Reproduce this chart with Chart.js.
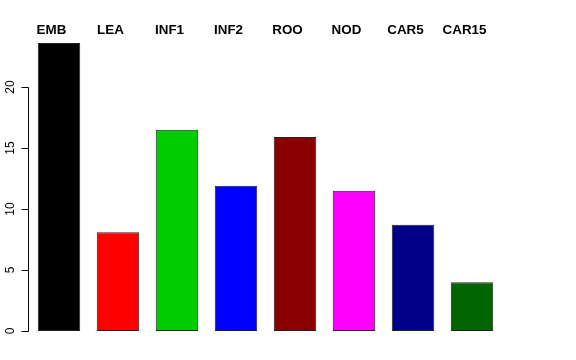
<!DOCTYPE html>
<html>
<head>
<meta charset="utf-8">
<script src="https://cdn.jsdelivr.net/npm/chart.js@4"></script>
<style>
  html, body { margin: 0; padding: 0; background: #fff; }
  #wrap { width: 576px; height: 360px; }
</style>
</head>
<body>
<div id="wrap"><canvas id="chart" width="576" height="360"></canvas></div>
<script>
// --- Data ---
const categories = ['EMB', 'LEA', 'INF1', 'INF2', 'ROO', 'NOD', 'CAR5', 'CAR15'];
const values = [23.6, 8.1, 16.5, 11.9, 15.9, 11.5, 8.7, 4.0];
const barColors = ['#000000', '#FF0000', '#00CD00', '#0000FF', '#8B0000', '#FF00FF', '#00008B', '#006400'];
const yTicks = [0, 5, 10, 15, 20];

// draws R-style left axis and the labels above the plot
const rStyle = {
    id: 'rStyle',
    afterDraw(chart) {
        const ctx = chart.ctx;
        const y = chart.scales.y;
        const x = chart.scales.x;
        const axisX = 28.5;

        ctx.save();
        ctx.strokeStyle = '#000';
        ctx.lineWidth = 1;
        ctx.beginPath();
        ctx.moveTo(axisX, Math.round(y.getPixelForValue(yTicks[0])) + 0.5);
        ctx.lineTo(axisX, Math.round(y.getPixelForValue(yTicks[yTicks.length - 1])) + 0.5);
        yTicks.forEach(t => {
            const py = Math.round(y.getPixelForValue(t)) + 0.5;
            ctx.moveTo(axisX, py);
            ctx.lineTo(axisX - 7, py);
        });
        ctx.stroke();

        ctx.fillStyle = '#000';
        ctx.font = '12px "Liberation Sans", Arial, sans-serif';
        ctx.textAlign = 'center';
        ctx.textBaseline = 'middle';
        yTicks.forEach(t => {
            const py = y.getPixelForValue(t);
            ctx.save();
            ctx.translate(11, py);
            ctx.rotate(-Math.PI / 2);
            ctx.fillText(String(t), 0, 0);
            ctx.restore();
        });

        // category names along the top
        ctx.font = 'bold 13.4px "Liberation Sans", Arial, sans-serif';
        ctx.textBaseline = 'alphabetic';
        categories.forEach((c, i) => {
            ctx.fillText(c, x.getPixelForValue(i) - 7.5, 34);
        });
        ctx.restore();
    }
};

new Chart(document.getElementById('chart'), {
    type: 'bar',
    data: {
        labels: categories,
        datasets: [{
            data: values,
            backgroundColor: barColors,
            borderColor: '#222',
            borderWidth: 1,
            borderSkipped: false,
            categoryPercentage: 1,
            barPercentage: 0.72
        }]
    },
    options: {
        responsive: false,
        animation: false,
        layout: { padding: { left: 29.5, right: 74.5, top: 38.2, bottom: 29 } },
        scales: {
            x: { display: false },
            y: { display: false, min: 0, max: 24 }
        },
        plugins: {
            legend: { display: false },
            tooltip: { enabled: false }
        }
    },
    plugins: [rStyle]
});
</script>
</body>
</html>
